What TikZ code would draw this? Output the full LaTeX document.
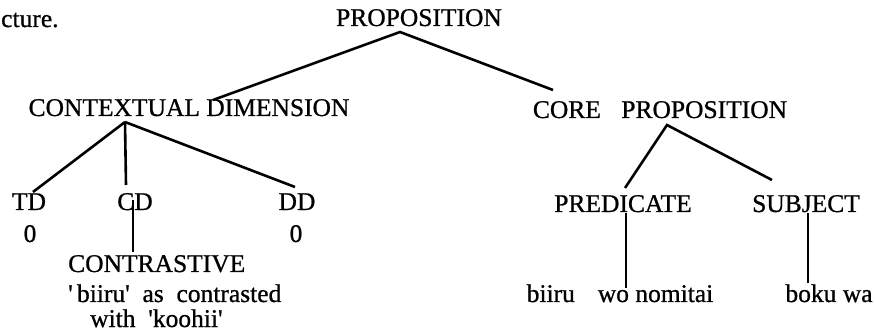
\documentclass[tikz,border=0pt]{standalone}
\usepackage{fontspec}
\setmainfont{Liberation Serif}
\newcommand{\scanfont}{\fontsize{25.5}{30}\selectfont\addfontfeature{FakeBold=0.8}}
\begin{document}
\begin{tikzpicture}[x=1pt,y=-1pt,
  lbl/.style={inner sep=0pt,anchor=base,font=\scanfont},
  lblw/.style={inner sep=0pt,anchor=base west,font=\scanfont},
  branch/.style={line width=2.6pt,line cap=butt}]
\useasboundingbox[fill=white] (0,0) rectangle (875,336);
% texts
\node[lblw] (cture) at (1,27) {cture.};
\node[lbl] (prop) at (419,26) {PROPOSITION};
\node[lbl] (ctx) at (189,116) {CONTEXTUAL\hspace{0.25em}DIMENSION};
\node[lbl] (core) at (660,118) {CORE\hspace{0.8em}PROPOSITION};
\node[lbl] (td) at (29,210) {TD};
\node[lbl] (cd) at (135,210) {CD};
\node[lbl] (dd) at (297,210) {DD};
\node[lbl] (tdz) at (30,242) {0};
\node[lbl] (ddz) at (296,242) {0};
\node[lblw] (contr) at (68,272) {CONTRASTIVE};
\node[lblw] (biiru1) at (68,302) {\textquotesingle\,biiru\textquotesingle\ \ as\ \ contrasted};
\node[lblw] (koohii) at (90,327) {with\ \ \textquotesingle koohii\textquotesingle};
\node[lbl] (pred) at (623,212) {PREDICATE};
\node[lbl] (subj) at (806,212) {SUBJECT};
\node[lbl] (biiru2) at (620,302) {biiru\hspace{0.9em}wo nomitai};
\node[lbl] (boku) at (829,302) {boku wa};
% connector points
\coordinate (p0) at (400,32);
\coordinate (p1) at (213,100);
\coordinate (p2) at (553,90);
\coordinate (c0) at (125,122);
\coordinate (c1) at (33,192);
\coordinate (c2) at (126,185);
\coordinate (c3) at (295,187);
\coordinate (d0) at (133,200);
\coordinate (d1) at (133,252);
\coordinate (k0) at (667,125);
\coordinate (k1) at (625,188);
\coordinate (k2) at (772,180);
\coordinate (e0) at (626,213);
\coordinate (e1) at (626,288);
\coordinate (f0) at (808,213);
\coordinate (f1) at (808,283);
% connectors
\draw[branch] (p1) -- (p0) -- (p2);
\draw[branch] (c0) -- (c1);
\draw[branch] (c0) -- (c2);
\draw[branch] (c0) -- (c3);
\draw[branch] (d0) -- (d1);
\draw[branch] (k1) -- (k0) -- (k2);
\draw[branch] (e0) -- (e1);
\draw[branch] (f0) -- (f1);
\end{tikzpicture}
\end{document}
